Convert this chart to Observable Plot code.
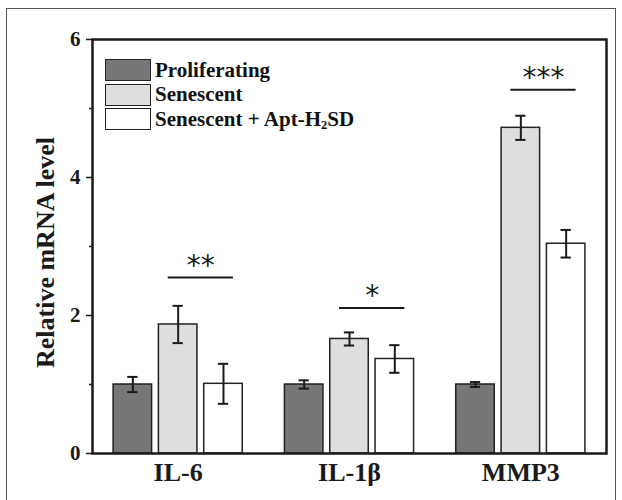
<!DOCTYPE html>
<html><head><meta charset="utf-8">
<script src="https://cdn.jsdelivr.net/npm/d3@7"></script>
<script src="https://cdn.jsdelivr.net/npm/@observablehq/plot@0.6"></script>
<style>
html,body{margin:0;padding:0;background:#fff;overflow:hidden;}
#wrap{position:relative;width:622px;height:500px;}
#border{position:absolute;left:6px;top:8px;width:610px;height:530px;border:1.5px solid #555;box-sizing:border-box;pointer-events:none;}
#legend{position:absolute;left:105px;top:58px;font-family:"Liberation Serif",serif;font-weight:bold;font-size:21px;color:#111;}
.item{display:flex;align-items:center;height:24.6px;}
.sw{width:46px;height:22px;border:1.5px solid #222;box-sizing:border-box;margin-right:4px;flex:none;}
.item span{line-height:1;}
sub{font-size:0.6em;vertical-align:-0.25em;line-height:0;}
</style></head>
<body>
<div id="wrap"><div id="border"></div><div id="chart"></div><div id="legend"></div></div>
<script>
const genes = ["IL-6", "IL-1β", "MMP3"];
const seriesNames = ["Proliferating", "Senescent", "Senescent + Apt-H2SD"];
const seriesColors = ["#777777", "#dedede", "#ffffff"];
const proliferating = [1.00, 1.00, 1.00];
const proliferatingSD = [0.11, 0.06, 0.035];
const senescent = [1.87, 1.66, 4.72];
const senescentSD = [0.27, 0.095, 0.175];
const senescentApt = [1.01, 1.37, 3.04];
const senescentAptSD = [0.29, 0.20, 0.20];
const sigLabels = ["**", "*", "***"];
const sigLevels = [2.55, 2.11, 5.27];
const yTicks = [0, 2, 4, 6];
const yMinorTicks = [1, 3, 5];

// layout (in group units)
const barOffset = 0.2645, barHalf = 0.1124, capHalf = 0.03, sigExtend = 0.058;

const values = [proliferating, senescent, senescentApt];
const sds = [proliferatingSD, senescentSD, senescentAptSD];
const rows = genes.flatMap((g, gi) => seriesNames.map((s, si) => ({
  gene: g, gi, si, series: s, value: values[si][gi], sd: sds[si][gi],
  x: gi + (si - 1) * barOffset
})));
const sig = genes.map((g, gi) => ({
  gi, label: sigLabels[gi], y: sigLevels[gi],
  x1: gi - sigExtend, x2: gi + barOffset + sigExtend
}));

const ink = "#1a1a1a";
const chart = Plot.plot({
  width: 622, height: 500,
  marginLeft: 92, marginRight: 16, marginTop: 39, marginBottom: 47,
  style: {fontFamily: "'Liberation Serif', serif", fontWeight: "bold", color: ink, background: "transparent"},
  x: {domain: [-0.5, 2.5]},
  y: {domain: [0, 6]},
  color: {domain: seriesNames, range: seriesColors},
  marks: [
    Plot.rectY(rows, {x1: d => d.x - barHalf, x2: d => d.x + barHalf, y1: 0, y2: "value", fill: "series", stroke: "#222", strokeWidth: 1.5}),
    Plot.ruleX(rows, {x: "x", y1: d => d.value - d.sd, y2: d => d.value + d.sd, stroke: ink, strokeWidth: 2}),
    Plot.ruleY(rows, {y: d => d.value + d.sd, x1: d => d.x - capHalf, x2: d => d.x + capHalf, stroke: ink, strokeWidth: 2}),
    Plot.ruleY(rows, {y: d => d.value - d.sd, x1: d => d.x - capHalf, x2: d => d.x + capHalf, stroke: ink, strokeWidth: 2}),
    Plot.ruleY(sig, {y: "y", x1: "x1", x2: "x2", stroke: ink, strokeWidth: 2}),
    Plot.text(sig, {x: d => (d.x1 + d.x2) / 2, y: "y", text: "label", fontFamily: "DejaVu Sans", fontWeight: "normal", fontSize: 28, lineAnchor: "bottom", dy: -3, fill: ink}),
    Plot.frame({stroke: ink, strokeWidth: 2.5}),
    Plot.axisY({ticks: yTicks, tickSize: 6, tickPadding: 6, fontSize: 21, label: null, strokeWidth: 1.5, tickFormat: d => d}),
    Plot.axisY({ticks: yMinorTicks, tickSize: 3, label: null, strokeWidth: 1.5, tickFormat: () => ""}),
    Plot.axisX({ticks: [0, 1, 2], tickFormat: i => genes[i], tickSize: 0, tickPadding: 9, fontSize: 26, label: null}),
    Plot.text(["Relative mRNA level"], {frameAnchor: "left", textAnchor: "middle", lineAnchor: "middle", rotate: -90, dx: -47, dy: 6, fontSize: 26, fill: ink})
  ]
});
document.getElementById("chart").appendChild(chart);

const legend = document.getElementById("legend");
seriesNames.forEach((s, i) => {
  const item = document.createElement("div");
  item.className = "item";
  const sw = document.createElement("div");
  sw.className = "sw";
  sw.style.background = seriesColors[i];
  const label = document.createElement("span");
  if (s.includes("H2SD")) {
    const [a, b] = s.split("H2SD");
    label.append(a + "H");
    const sub = document.createElement("sub"); sub.textContent = "2";
    label.append(sub, "SD" + b);
  } else label.textContent = s;
  item.append(sw, label);
  legend.appendChild(item);
});
</script>
</body></html>
